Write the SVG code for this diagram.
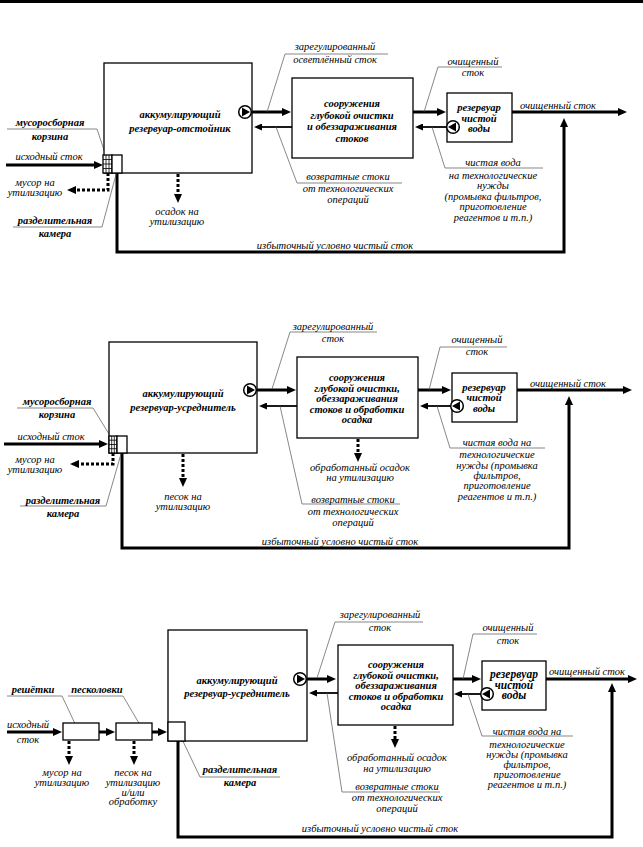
<svg xmlns="http://www.w3.org/2000/svg" xmlns:xlink="http://www.w3.org/1999/xlink" width="643" height="847" viewBox="0 0 643 847">
<style>
.box{fill:#fff;stroke:#000;stroke-width:1.3}
.flow{fill:none;stroke:#000;stroke-width:3}
.ret{fill:none;stroke:#000;stroke-width:1.8}
.dot{fill:none;stroke:#000;stroke-width:3;stroke-dasharray:3 2}
.lead{fill:none;stroke:#555;stroke-width:0.7}
.grid{fill:none;stroke:#000;stroke-width:0.8}
text{font-family:"Liberation Serif","Times New Roman",serif;font-style:italic;font-size:10.5px;fill:#000;text-anchor:middle}
.b{font-weight:bold}
</style>
<defs>
<marker id="ah" viewBox="0 0 9 8" markerWidth="9" markerHeight="8" refX="2" refY="4" orient="auto" markerUnits="userSpaceOnUse"><path d="M0,0 L9,4 L0,8 z" fill="#000"/></marker>
<marker id="ahs" viewBox="0 0 8 7" markerWidth="8" markerHeight="7" refX="1" refY="3.5" orient="auto" markerUnits="userSpaceOnUse"><path d="M0,0 L8,3.5 L0,7 z" fill="#000"/></marker>
<g id="pump"><circle r="6.3" fill="#fff" stroke="#000" stroke-width="1.5"/><path d="M-3,-4.5 L5,0 L-3,4.5 z" fill="#000"/></g>
</defs>
<rect x="0" y="0" width="643" height="3" fill="#000"/>

<!-- ============ Diagram 1 ============ -->
<g id="d1-connectors">
<line class="flow" x1="252" y1="112" x2="284" y2="112" marker-end="url(#ah)"/>
<line class="ret" x1="292" y1="127" x2="261" y2="127" marker-end="url(#ahs)"/>
<line class="flow" x1="413" y1="112" x2="439" y2="112" marker-end="url(#ah)"/>
<line class="ret" x1="447" y1="127" x2="422" y2="127" marker-end="url(#ahs)"/>
<line class="flow" x1="512" y1="112" x2="620" y2="112" marker-end="url(#ah)"/>
<line class="flow" x1="6" y1="165" x2="96" y2="165" marker-end="url(#ah)"/>
<polyline class="flow" points="117,173 117,252 564,252 564,125" marker-end="url(#ah)"/>
<polyline class="dot" points="108,173 108,190 74,190" marker-end="url(#ah)"/>
<line class="dot" x1="178" y1="174" x2="178" y2="196" marker-end="url(#ah)"/>
<polyline class="lead" points="267,112 285,54 388,54"/>
<polyline class="lead" points="424,112 438,67 502,67"/>
<polyline class="lead" points="276,127 297,183 402,183"/>
<polyline class="lead" points="432,127 445,168 543,168"/>
<polyline class="lead" points="7,129 97,129 106,156"/>
<polyline class="lead" points="13,227 102,227 118,167"/>
</g>
<g id="d1-accum">
<rect class="box" x="104" y="63" width="148" height="110"/>
<text class="b" x="180" y="118">аккумулирующий</text>
<text class="b" x="180" y="132">резервуар-отстойник</text>
<use xlink:href="#pump" x="245" y="112"/>
</g>
<g id="d1-basket">
<rect class="box" x="103" y="155" width="9" height="18"/>
<path class="grid" d="M106,155V173M109,155V173M103,159.5H112M103,164H112M103,168.5H112"/>
</g>
<g id="d1-chamber"><rect class="box" x="112" y="155" width="10" height="18"/></g>
<g id="d1-deep">
<rect class="box" x="292" y="78" width="121" height="80"/>
<text class="b" x="352" y="107">сооружения</text>
<text class="b" x="352" y="118.5">глубокой очистки</text>
<text class="b" x="352" y="130">и обеззараживания</text>
<text class="b" x="352" y="141.5">стоков</text>
</g>
<g id="d1-res">
<rect class="box" x="447" y="93" width="65" height="49"/>
<text class="b" x="479" y="111">резервуар</text>
<text class="b" x="479" y="121.5">чистой</text>
<text class="b" x="479" y="132">воды</text>
<use xlink:href="#pump" transform="translate(453,127) scale(-1,1)"/>
</g>
<g id="d1-labels">
<text x="335" y="50">зарегулированный</text>
<text x="335" y="63">осветлённый сток</text>
<text x="473" y="65">очищенный</text>
<text x="473" y="76">сток</text>
<text x="558" y="108.5">очищенный сток</text>
<text x="348" y="180">возвратные стоки</text>
<text x="348" y="192">от технологических</text>
<text x="348" y="202.5">операций</text>
<text x="493" y="166">чистая вода</text>
<text x="493" y="178.5">на технологические</text>
<text x="493" y="189">нужды</text>
<text x="493" y="199.5">(промывка фильтров,</text>
<text x="493" y="210">приготовление</text>
<text x="493" y="220.5">реагентов и т.п.)</text>
<text x="335" y="249">избыточный условно чистый сток</text>
<text x="49" y="160">исходный сток</text>
<text class="b" x="50" y="126">мусоросборная</text>
<text class="b" x="50" y="140">корзина</text>
<text x="35" y="185.5">мусор на</text>
<text x="35" y="196">утилизацию</text>
<text class="b" x="55" y="224">разделительная</text>
<text class="b" x="55" y="237">камера</text>
<text x="177" y="214.5">осадок на</text>
<text x="177" y="225">утилизацию</text>
</g>

<!-- ============ Diagram 2 ============ -->
<g id="d2-connectors">
<line class="flow" x1="257" y1="390" x2="289" y2="390" marker-end="url(#ah)"/>
<line class="ret" x1="297" y1="406" x2="266" y2="406" marker-end="url(#ahs)"/>
<line class="flow" x1="418" y1="390" x2="444" y2="390" marker-end="url(#ah)"/>
<line class="ret" x1="452" y1="406" x2="427" y2="406" marker-end="url(#ahs)"/>
<line class="flow" x1="517" y1="390" x2="625" y2="390" marker-end="url(#ah)"/>
<line class="flow" x1="4" y1="444" x2="101" y2="444" marker-end="url(#ah)"/>
<polyline class="flow" points="122,453 122,548 569,548 569,403" marker-end="url(#ah)"/>
<polyline class="dot" points="113,453 113,464 77,464" marker-end="url(#ah)"/>
<line class="dot" x1="183" y1="454" x2="183" y2="480" marker-end="url(#ah)"/>
<line class="dot" x1="358" y1="439" x2="358" y2="455" marker-end="url(#ah)"/>
<polyline class="lead" points="272,389 290,332 377,332"/>
<polyline class="lead" points="429,390 440,347 507,347"/>
<polyline class="lead" points="280,406 302,504 400,504"/>
<polyline class="lead" points="437,406 450,448 545,448"/>
<polyline class="lead" points="17,408 93,408 109,434"/>
<polyline class="lead" points="20,506 106,506 123,447"/>
</g>
<g id="d2-accum">
<rect class="box" x="109" y="342" width="148" height="111"/>
<text class="b" x="183" y="397">аккумулирующий</text>
<text class="b" x="183" y="411">резервуар-усреднитель</text>
<use xlink:href="#pump" x="250" y="390"/>
</g>
<g id="d2-basket">
<rect class="box" x="109" y="436" width="8" height="17"/>
<path class="grid" d="M111.7,436V453M114.3,436V453M109,440.2H117M109,444.5H117M109,448.7H117"/>
</g>
<g id="d2-chamber"><rect class="box" x="117" y="436" width="10" height="17"/></g>
<g id="d2-deep">
<rect class="box" x="297" y="357" width="121" height="81"/>
<text class="b" x="357" y="381">сооружения</text>
<text class="b" x="357" y="391.5">глубокой очистки,</text>
<text class="b" x="357" y="402">обеззараживания</text>
<text class="b" x="357" y="412.5">стоков и обработки</text>
<text class="b" x="357" y="423">осадка</text>
</g>
<g id="d2-res">
<rect class="box" x="452" y="373" width="65" height="49"/>
<text class="b" x="484" y="390.5">резервуар</text>
<text class="b" x="484" y="401">чистой</text>
<text class="b" x="484" y="411.5">воды</text>
<use xlink:href="#pump" transform="translate(457,406) scale(-1,1)"/>
</g>
<g id="d2-labels">
<text x="333" y="330">зарегулированный</text>
<text x="333" y="341.5">сток</text>
<text x="477" y="343">очищенный</text>
<text x="477" y="355">сток</text>
<text x="568" y="387">очищенный сток</text>
<text x="360" y="470.5">обработанный осадок</text>
<text x="360" y="481">на утилизацию</text>
<text x="353" y="502.5">возвратные стоки</text>
<text x="353" y="515">от технологических</text>
<text x="353" y="525.5">операций</text>
<text x="497" y="446">чистая вода на</text>
<text x="497" y="458">технологические</text>
<text x="497" y="468.5">нужды (промывка</text>
<text x="497" y="479">фильтров,</text>
<text x="497" y="489">приготовление</text>
<text x="497" y="499.5">реагентов и т.п.)</text>
<text x="340" y="545">избыточный условно чистый сток</text>
<text x="51" y="440">исходный сток</text>
<text class="b" x="57" y="405">мусоросборная</text>
<text class="b" x="57" y="418">корзина</text>
<text x="35" y="462.5">мусор на</text>
<text x="35" y="473">утилизацию</text>
<text class="b" x="63" y="504">разделительная</text>
<text class="b" x="63" y="517">камера</text>
<text x="183" y="499.5">песок на</text>
<text x="183" y="510">утилизацию</text>
</g>

<!-- ============ Diagram 3 ============ -->
<g id="d3-connectors">
<line class="flow" x1="307" y1="679" x2="329" y2="679" marker-end="url(#ah)"/>
<line class="ret" x1="338" y1="693" x2="316" y2="693" marker-end="url(#ahs)"/>
<line class="flow" x1="453" y1="679" x2="474" y2="679" marker-end="url(#ah)"/>
<line class="ret" x1="482" y1="694" x2="461" y2="694" marker-end="url(#ahs)"/>
<line class="flow" x1="546" y1="679" x2="630" y2="679" marker-end="url(#ah)"/>
<line class="flow" x1="7" y1="732" x2="55" y2="732" marker-end="url(#ah)"/>
<line class="flow" x1="99" y1="732" x2="108" y2="732" marker-end="url(#ah)"/>
<line class="flow" x1="152" y1="732" x2="160" y2="732" marker-end="url(#ah)"/>
<polyline class="flow" points="178,741 178,837 612,837 612,690" marker-end="url(#ah)"/>
<line class="dot" x1="69" y1="741" x2="69" y2="758" marker-end="url(#ah)"/>
<line class="dot" x1="134" y1="741" x2="134" y2="758" marker-end="url(#ah)"/>
<line class="dot" x1="395" y1="726" x2="395" y2="741" marker-end="url(#ah)"/>
<polyline class="lead" points="317,678 335,622 423,622"/>
<polyline class="lead" points="463,679 473,634 537,634"/>
<polyline class="lead" points="327,693 342,792 440,792"/>
<polyline class="lead" points="468,694 482,736 573,736"/>
<polyline class="lead" points="7,696 62,696 78,730"/>
<polyline class="lead" points="68,696 123,696 143,730"/>
<polyline class="lead" points="180,735 200,777 280,777"/>
</g>
<g id="d3-accum">
<rect class="box" x="168" y="630" width="139" height="111"/>
<text class="b" x="237" y="684">аккумулирующий</text>
<text class="b" x="237" y="697">резервуар-усреднитель</text>
<use xlink:href="#pump" x="300" y="679"/>
</g>
<g id="d3-chamber"><rect class="box" x="168" y="722" width="17" height="19"/></g>
<g id="d3-screens"><rect class="box" x="63" y="723" width="36" height="17"/></g>
<g id="d3-grit"><rect class="box" x="116" y="723" width="36" height="17"/></g>
<g id="d3-deep">
<rect class="box" x="338" y="645" width="115" height="80"/>
<text class="b" x="396" y="668">сооружения</text>
<text class="b" x="396" y="678.5">глубокой очистки,</text>
<text class="b" x="396" y="689">обеззараживания</text>
<text class="b" x="396" y="699.5">стоков и обработки</text>
<text class="b" x="396" y="710">осадка</text>
</g>
<g id="d3-res">
<rect class="box" x="482" y="661" width="64" height="49"/>
<text class="b" x="514" y="678" style="font-size:11.5px">резервуар</text>
<text class="b" x="514" y="688.5" style="font-size:11.5px">чистой</text>
<text class="b" x="514" y="699" style="font-size:11.5px">воды</text>
<use xlink:href="#pump" transform="translate(487,694) scale(-1,1)"/>
</g>
<g id="d3-labels">
<text x="380" y="618">зарегулированный</text>
<text x="380" y="631">сток</text>
<text x="508" y="631">очищенный</text>
<text x="508" y="644">сток</text>
<text x="587" y="675">очищенный сток</text>
<text x="397" y="761">обработанный осадок</text>
<text x="397" y="771.5">на утилизацию</text>
<text x="397" y="789.5">возвратные стоки</text>
<text x="397" y="801">от технологических</text>
<text x="397" y="811.5">операций</text>
<text x="527" y="735">чистая вода на</text>
<text x="527" y="747.5">технологические</text>
<text x="527" y="757.5">нужды (промывка</text>
<text x="527" y="767.5">фильтров,</text>
<text x="527" y="777.5">приготовление</text>
<text x="527" y="787.5">реагентов и т.п.)</text>
<text x="380" y="832">избыточный условно чистый сток</text>
<text x="28" y="728">исходный</text>
<text x="28" y="743">сток</text>
<text class="b" x="33" y="693">решётки</text>
<text class="b" x="97" y="693">песколовки</text>
<text x="62" y="776">мусор на</text>
<text x="62" y="786">утилизацию</text>
<text x="133" y="776">песок на</text>
<text x="133" y="786">утилизацию</text>
<text x="133" y="795.5">и/или</text>
<text x="133" y="805">обработку</text>
<text class="b" x="240" y="773">разделительная</text>
<text class="b" x="240" y="786">камера</text>
</g>
</svg>
